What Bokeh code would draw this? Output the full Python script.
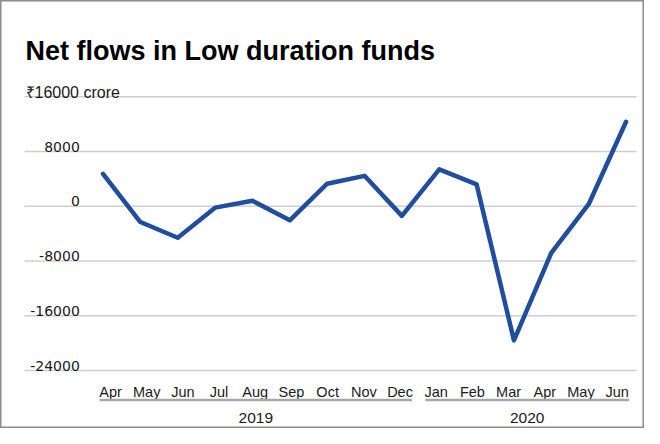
from bokeh.plotting import figure
from bokeh.models import Range1d
from bokeh.core.properties import value
from bokeh.embed import file_html
from bokeh.resources import INLINE

# ---- data ----
title_text = "Net flows in Low duration funds"
months = ["Apr", "May", "Jun", "Jul", "Aug", "Sep", "Oct", "Nov", "Dec",
          "Jan", "Feb", "Mar", "Apr", "May", "Jun"]
years = ["2019"] * 9 + ["2020"] * 6
net_flows = [4750, -2300, -4600, -200, 800, -2050, 3300, 4450, -1400,
             5400, 3200, -19600, -6800, 300, 12350]
y_ticks = [16000, 8000, 0, -8000, -16000, -24000]
y_tick_labels = ["₹16000 crore", "8000", "0", "-8000", "-16000", "-24000"]

W, H = 644, 428

p = figure(width=W, height=H,
           x_range=Range1d(-2.7436, 14.494),
           y_range=Range1d(-32476, 30074),
           x_axis_type=None, y_axis_type=None,
           toolbar_location=None, output_backend="svg",
           min_border=0)
p.extra_x_ranges = {"px": Range1d(0, W), "lab": Range1d(-3.0395, 14.7555)}
p.extra_y_ranges = {"px": Range1d(H, 0)}
p.outline_line_color = "#8c8c8c"
p.outline_line_width = 2
p.background_fill_color = "white"
p.border_fill_color = "white"

# gridlines
n = len(y_ticks)
p.segment(x0=[24] * n, x1=[636] * n, y0=y_ticks, y1=y_ticks,
          x_range_name="px", line_color="#cfcfcf", line_width=1.5)

# y tick labels
p.text(x=[79.3] * (n - 1), y=y_ticks[1:], text=y_tick_labels[1:],
       x_range_name="px", text_align="right", text_baseline="alphabetic",
       y_offset=-5, text_font=value("DejaVu Sans"), text_font_size="14px",
       text_color="#1a1a1a")
# top label (unit)
p.text(x=[25], y=[y_ticks[0]], text=[y_tick_labels[0]],
       x_range_name="px", text_align="left", text_baseline="alphabetic",
       y_offset=-4, text_font=value("Liberation Sans"), text_font_size="16px",
       text_color="#1a1a1a")

# line
xs = list(range(len(net_flows)))
p.line(x=xs, y=net_flows, line_color="#1f4e9e", line_width=4.5,
       line_join="round", line_cap="round")

# month labels
p.text(x=list(range(len(months))), y=[391.5] * len(months), text=months,
       x_range_name="lab", y_range_name="px", text_align="center",
       text_baseline="alphabetic", text_font=value("Liberation Sans"),
       text_font_size="14.5px", text_color="#1a1a1a")

# year groups
groups = []
for i, yv in enumerate(years):
    if not groups or groups[-1][0] != yv:
        groups.append([yv, i, i])
    else:
        groups[-1][2] = i
p.segment(x0=[g[1] - 0.3 for g in groups], x1=[g[2] + 0.33 for g in groups],
          y0=[399.5] * len(groups), y1=[399.5] * len(groups),
          x_range_name="lab", y_range_name="px",
          line_color="#a6a6a6", line_width=2.5)
p.text(x=[(g[1] + g[2]) / 2 + 0.015 for g in groups], y=[417] * len(groups),
       text=[g[0] for g in groups], x_range_name="lab", y_range_name="px",
       text_align="center", text_baseline="alphabetic",
       text_font=value("Liberation Sans"), text_font_size="15.5px",
       text_color="#1a1a1a")

# title
p.text(x=[25], y=[50.7], text=[title_text], x_range_name="px", y_range_name="px",
       text_align="left", text_baseline="alphabetic",
       text_font=value("Liberation Sans"), text_font_style="bold",
       text_font_size="27px", text_color="#000000")

open("out.html", "w").write(file_html(p, INLINE))
